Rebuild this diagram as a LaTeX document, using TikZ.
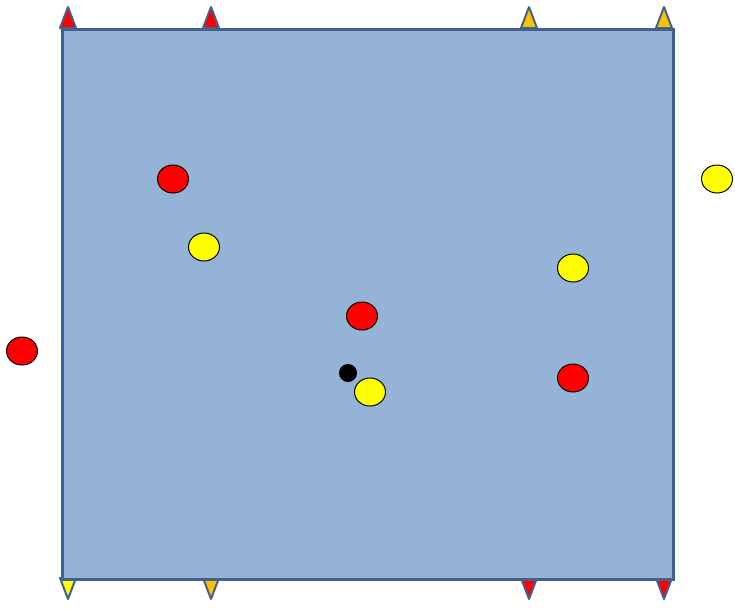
\documentclass[tikz,border=0pt]{standalone}
\usetikzlibrary{shapes.geometric}
\definecolor{boxfill}{HTML}{95B3D7}
\definecolor{boxline}{HTML}{41618F}
\definecolor{dotred}{HTML}{FF0000}
\definecolor{dotyellow}{HTML}{FFFF00}
\definecolor{triorange}{HTML}{FFC000}
\tikzset{
  x=1pt,y=-1pt,
  dot/.style={ellipse,draw=black,line width=1pt,minimum width=31pt,minimum height=28pt,inner sep=0pt},
  reddot/.style={dot,fill=dotred},
  yellowdot/.style={dot,fill=dotyellow},
  tri/.style={draw=boxline,line width=2pt,line join=round},
}
\begin{document}
\begin{tikzpicture}
\useasboundingbox (0,0) rectangle (735,608);
% triangles top
\foreach \xx/\cc in {68/dotred,211/dotred,529/triorange,664/triorange}{
  \filldraw[tri,fill=\cc] (\xx-8,28) -- (\xx,7) -- (\xx+8,28) -- cycle;
}
% triangles bottom
\foreach \xx/\cc in {68/dotyellow,211/triorange,529/dotred,664/dotred}{
  \filldraw[tri,fill=\cc] (\xx-8,578) -- (\xx,599) -- (\xx+8,578) -- cycle;
}
\node[draw=boxline,fill=boxfill,line width=3pt,minimum width=611pt,minimum height=550pt,inner sep=0pt,anchor=north west] (box) at (61,28) {};
\node[reddot] (r1) at (173,179) {};
\node[yellowdot] (y1) at (204,247) {};
\node[reddot] (r2) at (362,316) {};
\node[yellowdot] (y2) at (573,268) {};
\node[reddot] (r3) at (573,378) {};
\node[yellowdot] (y3) at (370,392) {};
\node[circle,fill=black,minimum size=18pt,inner sep=0pt] (k) at (348,373) {};
\node[reddot] (r4) at (22,351) {};
\node[yellowdot] (y4) at (717,179) {};
\end{tikzpicture}
\end{document}
